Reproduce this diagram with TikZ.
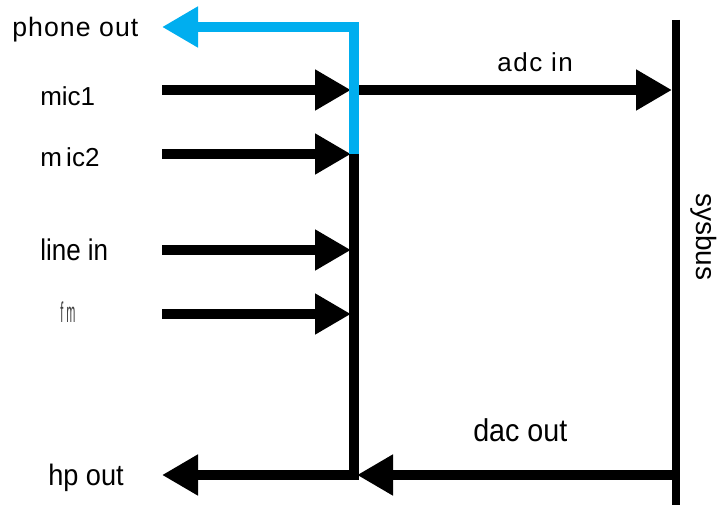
\documentclass[tikz,border=0pt]{standalone}
\usepackage{fontspec}
\setmainfont{Liberation Sans}
\usetikzlibrary{arrows.meta}
\definecolor{phoneblue}{RGB}{0,174,239}
\begin{document}
\begin{tikzpicture}[x=0.75pt,y=-0.75pt,
  lbl/.style={anchor=base west, inner sep=0pt, font=\fontsize{19.5pt}{21pt}\selectfont},
  tip/.style={-{Triangle[length=27pt,width=29pt]}},
  sig/.style={line width=7.5pt, tip},
  mixer/.style={line width=7pt, miter limit=10},
  busline/.style={line width=6.2pt},
]
\useasboundingbox (0,0) rectangle (724,505);
% coordinates
\coordinate (top) at (354,27);
\coordinate (phonee) at (162,27);
\coordinate (m1s) at (162,90);
\coordinate (m1e) at (351,90);
\coordinate (jm1) at (354,90);
\coordinate (m2s) at (162,154);
\coordinate (m2e) at (351,154);
\coordinate (jm2) at (354,154);
\coordinate (lis) at (162,250);
\coordinate (lie) at (351,250);
\coordinate (fms) at (162,314);
\coordinate (fme) at (351,314);
\coordinate (jhp) at (354,475);
\coordinate (hpe) at (162,475);
\coordinate (adce) at (672,90);
\coordinate (dacs) at (676,475);
\coordinate (dace) at (357,475);
\coordinate (bt) at (676,20);
\coordinate (bb) at (676,505);

% labels
\node[lbl, font=\fontsize{20pt}{21pt}\addfontfeature{LetterSpace=4}] (lphone) at (12,36.5) {phone out};
\node[lbl] (lmic1) at (40,106) {mic1};
\node[lbl] (lmic2) at (40,166.5) {m\,ic2};
\node[lbl] (lline) at (40,260.5) {\scalebox{1}[1.15]{line in}};
\node[lbl, text=black!75] (lfm) at (60,323) {\scalebox{0.42}[1.1]{f m}};
\node[lbl, font=\fontsize{18.5pt}{20pt}\selectfont] (lhp) at (48,485) {\scalebox{1.1}[1.2]{hp out}};
\node[lbl, font=\fontsize{19.5pt}{21pt}\addfontfeature{LetterSpace=6}] (ladc) at (497,72) {adc in};
\node[lbl, font=\fontsize{21.5pt}{23pt}\selectfont] (ldac) at (473,441.5) {\scalebox{1}[1.1]{dac out}};
\node[font=\fontsize{21pt}{23pt}\selectfont, rotate=-90, inner sep=0pt] (lsys) at (704,237) {sysbus};

% system bus
\draw[busline] (bt) -- (bb);

% inputs
\draw[sig] (m1s) -- (m1e);
\draw[sig] (m2s) -- (m2e);
\draw[sig] (lis) -- (lie);
\draw[sig] (fms) -- (fme);

% adc / dac
\draw[sig] (jm1) -- (adce);
\draw[sig] (dacs) -- (dace);

% mixer to hp out
\draw[mixer, tip] (jm2) -- (jhp) -- (hpe);

% phone out (blue)
\draw[mixer, phoneblue, tip] (jm2) -- (top) -- (phonee);
\end{tikzpicture}
\end{document}
